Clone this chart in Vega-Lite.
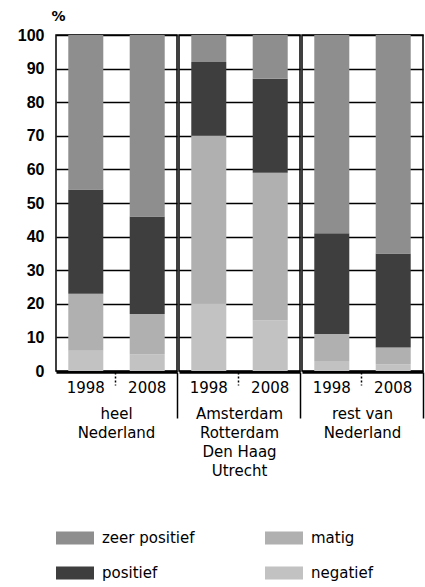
{
  "$schema": "https://vega.github.io/schema/vega-lite/v6.json",
  "background": "white",
  "padding": {"left": 17, "right": 5, "top": 9, "bottom": 0},
  "data": {
    "values": [
      {"group": "heel|Nederland", "year": "1998", "category": "negatief", "value": 6},
      {"group": "heel|Nederland", "year": "1998", "category": "matig", "value": 17},
      {"group": "heel|Nederland", "year": "1998", "category": "positief", "value": 31},
      {"group": "heel|Nederland", "year": "1998", "category": "zeer positief", "value": 46},
      {"group": "heel|Nederland", "year": "2008", "category": "negatief", "value": 5},
      {"group": "heel|Nederland", "year": "2008", "category": "matig", "value": 12},
      {"group": "heel|Nederland", "year": "2008", "category": "positief", "value": 29},
      {"group": "heel|Nederland", "year": "2008", "category": "zeer positief", "value": 54},
      {"group": "Amsterdam|Rotterdam|Den Haag|Utrecht", "year": "1998", "category": "negatief", "value": 20},
      {"group": "Amsterdam|Rotterdam|Den Haag|Utrecht", "year": "1998", "category": "matig", "value": 50},
      {"group": "Amsterdam|Rotterdam|Den Haag|Utrecht", "year": "1998", "category": "positief", "value": 22},
      {"group": "Amsterdam|Rotterdam|Den Haag|Utrecht", "year": "1998", "category": "zeer positief", "value": 8},
      {"group": "Amsterdam|Rotterdam|Den Haag|Utrecht", "year": "2008", "category": "negatief", "value": 15},
      {"group": "Amsterdam|Rotterdam|Den Haag|Utrecht", "year": "2008", "category": "matig", "value": 44},
      {"group": "Amsterdam|Rotterdam|Den Haag|Utrecht", "year": "2008", "category": "positief", "value": 28},
      {"group": "Amsterdam|Rotterdam|Den Haag|Utrecht", "year": "2008", "category": "zeer positief", "value": 13},
      {"group": "rest van|Nederland", "year": "1998", "category": "negatief", "value": 3},
      {"group": "rest van|Nederland", "year": "1998", "category": "matig", "value": 8},
      {"group": "rest van|Nederland", "year": "1998", "category": "positief", "value": 30},
      {"group": "rest van|Nederland", "year": "1998", "category": "zeer positief", "value": 59},
      {"group": "rest van|Nederland", "year": "2008", "category": "negatief", "value": 2},
      {"group": "rest van|Nederland", "year": "2008", "category": "matig", "value": 5},
      {"group": "rest van|Nederland", "year": "2008", "category": "positief", "value": 28},
      {"group": "rest van|Nederland", "year": "2008", "category": "zeer positief", "value": 65}
    ]
  },
  "transform": [
    {"calculate": "indexof(['negatief','matig','positief','zeer positief'], datum.category)", "as": "stackOrder"}
  ],
  "facet": {
    "column": {
      "field": "group",
      "type": "nominal",
      "sort": ["heel|Nederland", "Amsterdam|Rotterdam|Den Haag|Utrecht", "rest van|Nederland"],
      "header": {
        "title": null,
        "labelOrient": "bottom",
        "labelExpr": "split(datum.value, '|')",
        "labelFont": "DejaVu Sans",
        "labelFontSize": 15,
        "labelLineHeight": 19,
        "labelBaseline": "top",
        "labelColor": "black",
        "labelPadding": -12
      }
    }
  },
  "spacing": 0,
  "spec": {
    "width": 121,
    "height": 336,
    "mark": {"type": "bar", "stroke": null},
    "encoding": {
      "x": {
        "field": "year",
        "type": "nominal",
        "scale": {"paddingInner": 0.43, "paddingOuter": 0.2},
        "axis": {
          "title": null,
          "labelAngle": 0,
          "labelFont": "DejaVu Sans",
          "labelFontSize": 15,
          "labelColor": "black",
          "labelPadding": {"condition": {"test": "datum.value == '2008'", "value": -38}, "value": -5},
          "bandPosition": 1.36,
          "tickColor": "black",
          "tickWidth": 1.5,
          "tickSize": {"condition": {"test": "datum.value == '2008'", "value": 46}, "value": 13},
          "tickDash": {"condition": {"test": "datum.value == '2008'", "value": []}, "value": [2, 2]},
          "domainColor": "black",
          "domainWidth": 2.5
        }
      },
      "y": {
        "field": "value",
        "type": "quantitative",
        "stack": "zero",
        "scale": {"domain": [0, 100], "nice": false},
        "axis": {
          "title": "%",
          "titleAngle": 0,
          "titleAlign": "left",
          "titleBaseline": "bottom",
          "titleX": -4,
          "titleY": -12,
          "titleFont": "DejaVu Sans",
          "titleFontSize": 14,
          "titleFontWeight": "bold",
          "titleColor": "black",
          "values": [0, 10, 20, 30, 40, 50, 60, 70, 80, 90, 100],
          "labelFont": "Liberation Sans",
          "labelFontSize": 16,
          "labelFontWeight": "bold",
          "labelColor": "black",
          "labelPadding": 11,
          "ticks": false,
          "domain": false,
          "grid": true,
          "gridColor": "black",
          "gridWidth": 1.5
        }
      },
      "color": {
        "field": "category",
        "type": "nominal",
        "scale": {
          "domain": ["zeer positief", "matig", "positief", "negatief"],
          "range": ["#8e8e8e", "#b0b0b0", "#3e3e3e", "#c2c2c2"]
        },
        "legend": {
          "title": null,
          "orient": "bottom",
          "columns": 2,
          "columnPadding": 70,
          "rowPadding": 8,
          "offset": 40,
          "symbolType": "M-1,-0.34H1V0.34H-1Z",
          "symbolSize": 1444,
          "symbolStrokeWidth": 0,
          "labelFont": "DejaVu Sans",
          "labelFontSize": 15,
          "labelColor": "black",
          "labelOffset": 8
        }
      },
      "order": {"field": "stackOrder", "type": "quantitative", "sort": "ascending"}
    }
  },
  "config": {
    "view": {"stroke": "black", "strokeWidth": 1.5},
    "axis": {"gridColor": "black"}
  }
}
